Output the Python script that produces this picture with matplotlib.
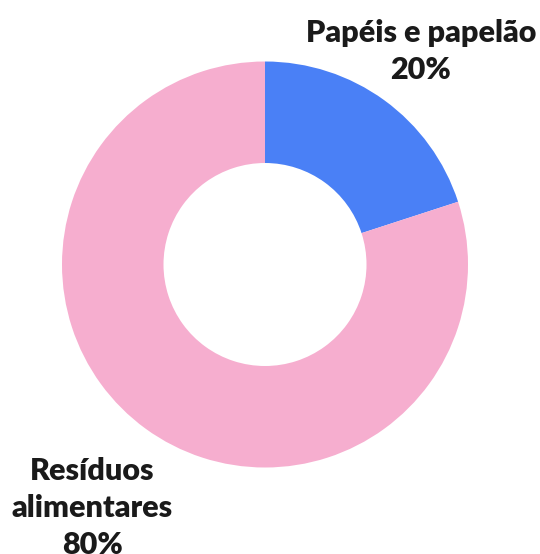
import matplotlib
matplotlib.use("Agg")
from matplotlib import pyplot as plt

categorias = ["Papéis e papelão", "Resíduos alimentares"]
valores = [20, 80]
rotulos = ["Papéis e papelão\n20%", "Resíduos\nalimentares\n80%"]
cores = ["#4a80f6", "#f6aecf"]

fig = plt.figure(figsize=(5.4, 5.54), dpi=100)
ax = fig.add_axes([62 / 540, 86.5 / 554, 406 / 540, 406 / 554])

ax.pie(valores, colors=cores, startangle=90, counterclock=False,
       radius=1, wedgeprops=dict(width=0.5, linewidth=0))
ax.set_xlim(-1, 1)
ax.set_ylim(-1, 1)
ax.set_aspect("equal")
ax.axis("off")

# posicao dos rotulos fora da rosca
pos = [(0.768, 1.05), (-0.852, -1.2)]
for r, (x, y) in zip(rotulos, pos):
    ax.text(x, y, r, ha="center", va="center", fontsize=22, fontweight="heavy",
            family="Lato", color="#1a1a1a", linespacing=1.4, clip_on=False)

fig.savefig("out.png", dpi=100)
